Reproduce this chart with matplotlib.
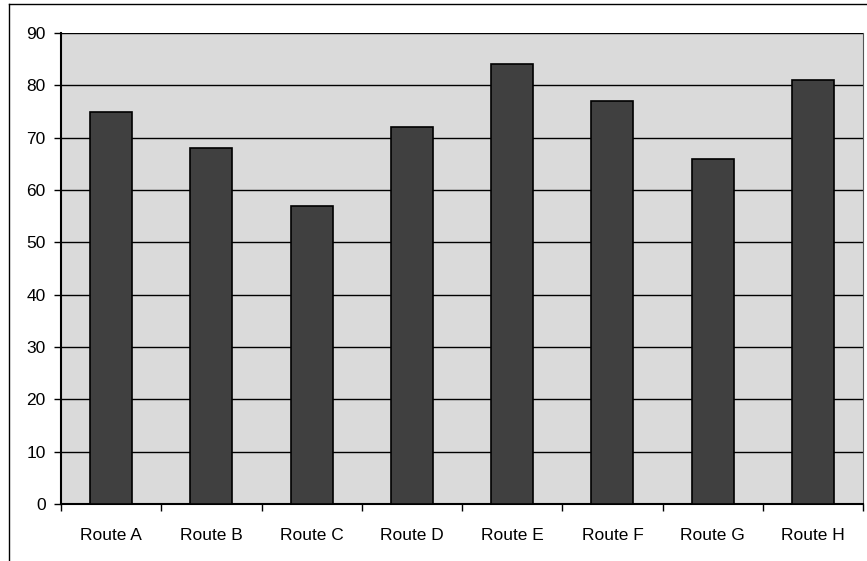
import numpy as np
import matplotlib.pyplot as plt
from matplotlib.lines import Line2D

routes = ["Route A", "Route B", "Route C", "Route D", "Route E", "Route F", "Route G", "Route H"]
values = [75, 68, 57, 72, 84, 77, 66, 81]
yticks = [0, 10, 20, 30, 40, 50, 60, 70, 80, 90]

plt.rcParams['font.family'] = ['Liberation Sans', 'DejaVu Sans']

fig = plt.figure(figsize=(8.67, 5.61), dpi=100)
ax = fig.add_axes([61/867, 1-504/561, (863-61)/867, (504-33)/561])
ax.set_facecolor('#dadada')

x = np.arange(len(routes))
ax.bar(x, values, width=0.42, color='#404040', edgecolor='black', linewidth=1.2, zorder=3)

ax.set_xlim(-0.5, len(routes)-0.5)
ax.set_ylim(0, 90)
ax.set_yticks(yticks)
ax.yaxis.grid(True, color='black', linewidth=1.0, zorder=1)
ax.set_axisbelow(True)

ax.set_xticks(x)
ax.set_xticklabels(routes, fontsize=12.5)
ax.set_xticks(np.arange(len(routes)+1)-0.5, minor=True)
ax.tick_params(axis='x', which='major', length=0, pad=17)
ax.tick_params(axis='x', which='minor', length=5, width=1, direction='out')
ax.tick_params(axis='y', length=5, width=1, labelsize=12.5, pad=6)

ax.spines['top'].set_visible(False)
ax.spines['right'].set_color('#555555')
ax.spines['right'].set_linewidth(0.8)
ax.spines['left'].set_linewidth(1.5)
ax.spines['bottom'].set_linewidth(1.5)

# outer chart border
fig.add_artist(Line2D([9/867, 9/867], [0, 1-4/561], color='black', linewidth=1, transform=fig.transFigure))
fig.add_artist(Line2D([9/867, 1], [1-4/561, 1-4/561], color='black', linewidth=1, transform=fig.transFigure))

fig.savefig('out.png', dpi=100)
